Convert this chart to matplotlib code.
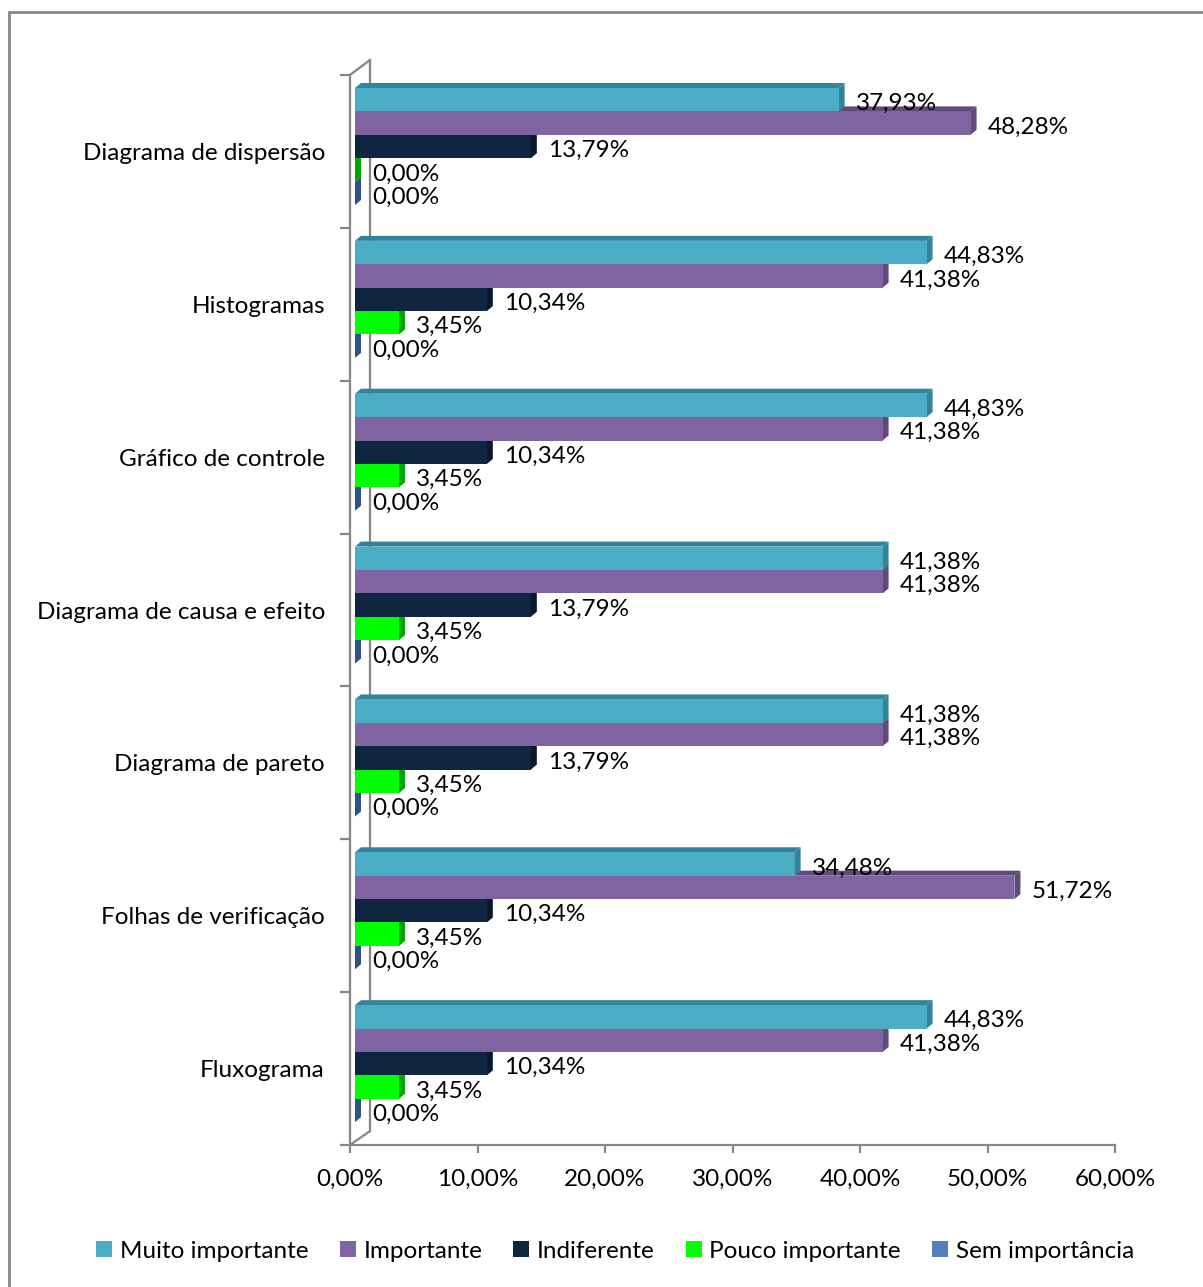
import matplotlib
matplotlib.use("Agg")
import matplotlib.pyplot as plt
from matplotlib.patches import Polygon, Rectangle
from matplotlib.lines import Line2D

plt.rcParams['font.family'] = ['Lato', 'DejaVu Sans']

categorias = ["Diagrama de dispersão", "Histogramas", "Gráfico de controle",
              "Diagrama de causa e efeito", "Diagrama de pareto",
              "Folhas de verificação", "Fluxograma"]
series = ["Muito importante", "Importante", "Indiferente",
          "Pouco importante", "Sem importância"]
muito = [37.93, 44.83, 44.83, 41.38, 41.38, 34.48, 44.83]
importante = [48.28, 41.38, 41.38, 41.38, 41.38, 51.72, 41.38]
indiferente = [13.79, 10.34, 10.34, 13.79, 13.79, 10.34, 10.34]
pouco = [0.00, 3.45, 3.45, 3.45, 3.45, 3.45, 3.45]
sem = [0.00, 0.00, 0.00, 0.00, 0.00, 0.00, 0.00]
valores = [muito, importante, indiferente, pouco, sem]

cores = ["#4BACC6", "#8064A2", "#10253F", "#00FF00", "#4F81BD"]
cores_lado = ["#31849B", "#5F4A7B", "#0A1829", "#00A800", "#2E5286"]
cinza = "#868686"
fs = 17.5

W, H = 1203, 1287
fig = plt.figure(figsize=(W / 100, H / 100), dpi=100)
ax = fig.add_axes([350 / W, 1 - 1145 / H, 765 / W, 1070 / H])

px_x = 765 / 60.0      # pixels por ponto percentual
px_y = 1070 / 7.0      # pixels por categoria
dx = 6 / px_x          # profundidade 3D (direita)
dy = 5 / px_y          # profundidade 3D (para cima)
x0 = 5 / px_x          # deslocamento da face frontal
h = 23.4 / px_y
topo = 13 / px_y

ax.set_xlim(0, 60)
ax.set_ylim(6.5, -0.5)

for k in range(len(categorias)):
    # de baixo para cima, para que as barras de cima cubram as faces superiores
    for i in reversed(range(len(series))):
        v = valores[i][k]
        yt = k - 0.5 + topo + i * h
        yb = yt + h
        xe = x0 + v
        ax.add_patch(Polygon([(x0, yt), (x0 + dx, yt - dy), (xe + dx, yt - dy), (xe, yt)],
                             closed=True, fc=cores_lado[i], ec='none', clip_on=False, zorder=2))
        ax.add_patch(Polygon([(xe, yt), (xe + dx, yt - dy), (xe + dx, yb - dy), (xe, yb)],
                             closed=True, fc=cores_lado[i], ec='none', clip_on=False, zorder=2))
        ax.barh(yt + h / 2, v, height=h, left=x0, color=cores[i], zorder=2, clip_on=False)

for k in range(len(categorias)):
    for i in range(len(series)):
        v = valores[i][k]
        yc = k - 0.5 + topo + i * h + h / 2
        ax.text(x0 + v + 17 / px_x, yc + 4 / px_y, f"{v:.2f}%".replace('.', ','),
                fontsize=fs, va='center', ha='left', color='black', zorder=5)

# paredes do eixo 3D
bx, by = 20 / px_x, 15 / px_y
ax.plot([0, 0], [-0.5, 6.5], color=cinza, lw=1.6, clip_on=False, zorder=1)
ax.plot([bx, bx], [-0.5 - by, 6.5 - by + 1 / px_y], color=cinza, lw=1.6, clip_on=False, zorder=1)
ax.plot([0, bx], [-0.5, -0.5 - by], color=cinza, lw=1.6, clip_on=False, zorder=1)
ax.plot([0, bx], [6.5, 6.5 - by + 1 / px_y], color=cinza, lw=1.6, clip_on=False, zorder=1)

for s in ['top', 'right', 'left']:
    ax.spines[s].set_visible(False)
ax.spines['bottom'].set_color(cinza)
ax.spines['bottom'].set_linewidth(1.6)

ax.set_xticks(range(0, 61, 10))
ax.set_xticklabels([f"{t},00%" for t in range(0, 61, 10)], fontsize=fs)
ax.tick_params(axis='x', length=6, width=1.6, color=cinza, pad=11)
ax.set_yticks(range(len(categorias)))
ax.set_yticklabels(categorias, fontsize=fs)
ax.tick_params(axis='y', which='major', length=0, pad=18)
ax.set_yticks([k - 0.5 for k in range(len(categorias) + 1)], minor=True)
ax.tick_params(axis='y', which='minor', length=7, width=1.6, color=cinza, direction='out')

handles = [Line2D([], [], marker='s', ls='none', markersize=11, color=c, markeredgewidth=0)
           for c in cores]
fig.legend(handles, series, loc='center', bbox_to_anchor=(615.5 / W, 1 - 1251 / H),
           ncol=5, frameon=False, fontsize=fs, handlelength=0.6, handletextpad=0.35,
           columnspacing=1.3)

fig.patches.append(Rectangle((8.5 / W, -0.05), 1.2, 1 - 12.5 / H + 0.05, transform=fig.transFigure,
                             fill=False, ec=cinza, lw=2, zorder=0))

fig.savefig("out.png", dpi=100)
